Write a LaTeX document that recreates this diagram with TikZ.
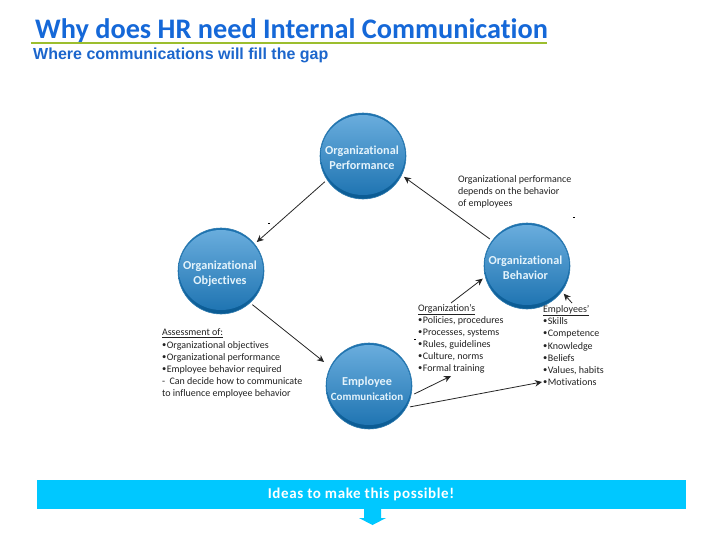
\documentclass[tikz,border=0pt]{standalone}
\usepackage{fontspec}
\setmainfont[Ligatures=NoCommon]{Carlito}
\newfontfamily\arialfont{Liberation Sans}
\newfontfamily\barfont[Ligatures=NoCommon,LetterSpace=4]{Carlito}
\usetikzlibrary{arrows.meta}
\definecolor{titleblue}{HTML}{1568D8}
\definecolor{subblue}{HTML}{1C66CC}
\definecolor{rulegreen}{HTML}{9CBE2E}
\definecolor{barblue}{HTML}{00C8FF}
\definecolor{txt}{HTML}{222222}
\definecolor{ctop}{HTML}{6BAEDE}
\definecolor{cmid}{HTML}{1C72B0}
\definecolor{cbot}{HTML}{0A5A92}
\definecolor{cring}{HTML}{2F7BAF}
\definecolor{ctext}{HTML}{E4F3FB}
\tikzset{
  x=1pt,y=-1pt,
  orb/.style={circle,minimum size=86pt,inner sep=0pt,outer sep=3pt,draw=cring,line width=0.6pt,
    top color=cmid,bottom color=cbot,middle color=cmid,
    path picture={
      \shade[top color=ctop,bottom color=cmid]
        ([yshift=-1pt]path picture bounding box.center) ++(0,-2) ellipse [x radius=42,y radius=40];
    }},
  orbtext/.style={inner sep=0pt,outer sep=0pt,text=ctext,align=center,font=\fontsize{12.2}{14.6}\selectfont\bfseries},
  label/.style={anchor=north west,inner sep=0pt,outer sep=0pt,align=left,text=txt,font=\fontsize{10}{12.15}\selectfont},
  conn/.style={draw=black!85,line width=0.8pt,-{Stealth[length=7pt,width=6.5pt]}},
  speck/.style={draw=black,line width=0.8pt},
}
\newcommand{\bul}{{\raisebox{0.2ex}{\fontsize{8.5}{8}\selectfont\textbullet}\hspace{0.6pt}}}
\begin{document}
\begin{tikzpicture}
\useasboundingbox (0,0) rectangle (728,546);
\fill[white] (0,0) rectangle (728,546);
% title
\node[anchor=base west,inner sep=0,text=titleblue,font=\fontsize{28.3}{30}\selectfont\bfseries] (title) at (35,38) {Why does HR need Internal Communication};
\coordinate (ruleL) at (31,43);
\coordinate (ruleR) at (547,43);
\draw[rulegreen,line width=2pt] (ruleL) -- (ruleR);
\node[anchor=base west,inner sep=0,text=subblue,font=\arialfont\fontsize{16}{16}\selectfont\bfseries] (sub) at (33,59) {Where communications will fill the gap};
% circles
\node[orb] (perf) at (363,156) {};
\node[orb] (beh) at (527,266) {};
\node[orb] (obj) at (221,271) {};
\node[orb] (emp) at (369,386) {};
\node[orbtext] (perfT) at (362,158) {Organizational\\Performance};
\node[orbtext] (behT) at (525.5,267.5) {Organizational\\Behavior};
\node[orbtext] (objT) at (220,273.5) {Organizational\\Objectives};
\node[orbtext] (empT) at (367,388.5) {Employee\\{\fontsize{11}{14.6}\selectfont Communication}};
% labels
\node[label] (note) at (458,175.5) {Organizational performance\\depends on the behavior\\of employees};
\node[label] (assess) at (162,329) {\underline{Assessment of:}\\\bul Organizational objectives\\\bul Organizational performance\\\bul Employee behavior required\\-\ \ Can decide how to communicate\\to influence employee behavior};
\node[label] (orgl) at (418,304) {\underline{Organization’s}\\\bul Policies, procedures\\\bul Processes, systems\\\bul Rules, guidelines\\\bul Culture, norms\\\bul Formal training};
\node[label] (empl) at (543,305.5) {\underline{Employees’}\\\bul Skills\\\bul Competence\\\bul Knowledge\\\bul Beliefs\\\bul Values, habits\\\bul Motivations};
% connector ends
\coordinate (orgT) at (451,303);
\coordinate (orgB) at (451,376);
\coordinate (emplT) at (572,303);
\coordinate (motiv) at (542,382);
\draw[conn] (perf.214) -- (obj.39);
\draw[conn] (beh.144) -- (perf.-27);
\draw[conn,shorten >=5pt] (obj.-47) -- (emp.153);
\draw[conn] (emp.-10) -- (orgB);
\draw[conn] (emp.-27) -- (motiv);
\draw[conn] (orgT) -- (beh.196);
\draw[conn] (emplT) -- (beh.-37);
% specks
\draw[speck] (268,223.5) -- (270,223.5);
\draw[speck] (573,217.5) -- (575,217.5);
\draw[speck] (414,339.5) -- (416,339.5);
% bottom bar
\node[fill=barblue,minimum width=649pt,minimum height=29pt,inner sep=0,outer sep=0,text=white,font=\barfont\fontsize{15}{15}\selectfont\bfseries] (bar) at (361,494.5) {Ideas to make this possible!};
\fill[barblue] (364,509) -- (381,509) -- (381,518) -- (386,518) -- (372.5,525) -- (359,518) -- (364,518) -- cycle;
\end{tikzpicture}
\end{document}
